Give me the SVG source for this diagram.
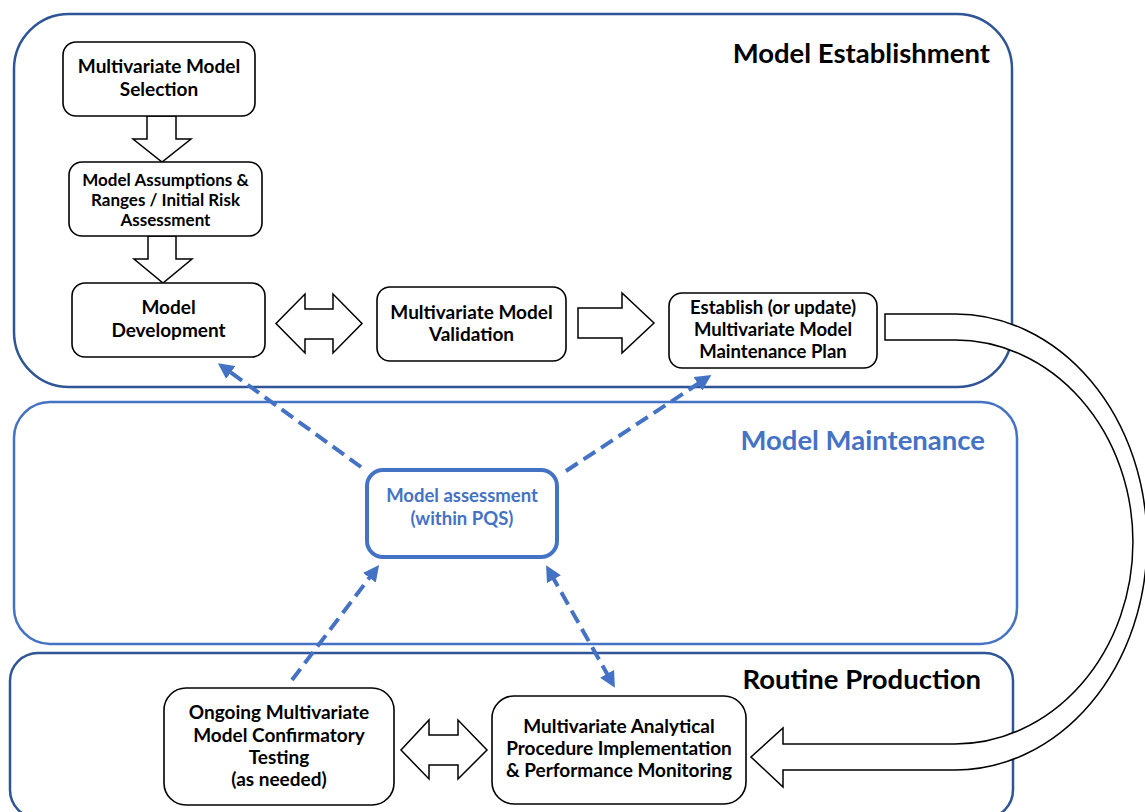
<svg xmlns="http://www.w3.org/2000/svg" width="1145" height="812" viewBox="0 0 1145 812">
<style>
.cont{fill:none;stroke-width:2.5}
.dk{stroke:#2F5597}
.lt{stroke:#4472C4}
.box{fill:#fff;stroke:#000;stroke-width:1.6}
.blk{fill:#fff;stroke:#000;stroke-width:1.5;stroke-linejoin:miter}
.t{font-family:Lato,"Liberation Sans",sans-serif;font-weight:bold;font-size:19px;fill:#000;text-anchor:middle}
.s16{font-size:17px}
.s18{font-size:18.5px}
.h{font-family:Lato,"Liberation Sans",sans-serif;font-weight:bold;font-size:27.5px;fill:#000}
.blue{fill:#4472C4}
.dash{fill:none;stroke:#4472C4;stroke-width:4;stroke-dasharray:14 7}
</style>
<defs>
<marker id="ah" viewBox="0 0 16 16" refX="6" refY="8" markerWidth="16" markerHeight="16" markerUnits="userSpaceOnUse" orient="auto-start-reverse">
<path d="M0,0 L16,8 L0,16 z" fill="#4472C4"/>
</marker>
</defs>

<g id="containers">
<rect id="model-establishment" class="cont dk" x="14" y="14" width="998" height="373" rx="55"/>
<rect id="model-maintenance" class="cont lt" x="14" y="402" width="1003" height="242" rx="36"/>
<rect id="routine-production" class="cont dk" x="10" y="653" width="1003" height="165" rx="28"/>
<text class="h" x="990" y="63" text-anchor="end">Model Establishment</text>
<text class="h blue" x="985" y="450" text-anchor="end">Model Maintenance</text>
<text class="h" x="981" y="689" text-anchor="end">Routine Production</text>
</g>

<g id="connectors">
<path class="blk" d="M147,116 L176,116 L176,139 L191,139 L162,162 L133,139 L147,139 Z"/>
<path class="blk" d="M148,236 L176,236 L176,259 L192,259 L163,283 L134,259 L148,259 Z"/>
<path class="blk" d="M276,323.5 L305,294 L305,309 L333,309 L333,294 L362,323.5 L333,353 L333,339 L305,339 L305,353 Z"/>
<path class="blk" d="M578,308 L622,308 L622,293 L654,323 L622,353 L622,338 L578,338 Z"/>
<path class="blk" d="M401,750 L429,720 L429,735 L458,735 L458,720 L487,750 L458,779 L458,765 L429,765 L429,779 Z"/>
<path class="blk" d="M885,314 L955,314 A192,228 0 0 1 955,770 L783,770 L783,787 L751,757 L783,728 L783,744 L955,744 A178,202 0 0 0 955,340 L885,340 Z"/>
<path class="dash" d="M361,467 L226,369" marker-end="url(#ah)"/>
<path class="dash" d="M566,471 L703,380.5" marker-end="url(#ah)"/>
<path class="dash" d="M292,680 L373,573" marker-end="url(#ah)"/>
<path class="dash" d="M551,574 L610,679" marker-start="url(#ah)" marker-end="url(#ah)"/>
</g>

<g id="n-selection">
<rect class="box" x="63" y="42" width="192" height="74" rx="13"/>
<text class="t" x="159" y="73">Multivariate Model</text>
<text class="t" x="159" y="96">Selection</text>
</g>
<g id="n-assumptions">
<rect class="box" x="69" y="162" width="193" height="74" rx="13"/>
<text class="t s16" x="165.5" y="186">Model Assumptions &amp;</text>
<text class="t s16" x="165.5" y="206">Ranges / Initial Risk</text>
<text class="t s16" x="165.5" y="226">Assessment</text>
</g>
<g id="n-development">
<rect class="box" x="72" y="283" width="193" height="74" rx="13"/>
<text class="t" x="168.5" y="314">Model</text>
<text class="t" x="168.5" y="337">Development</text>
</g>
<g id="n-validation">
<rect class="box" x="377" y="287" width="189" height="74" rx="13"/>
<text class="t" x="471.5" y="319">Multivariate Model</text>
<text class="t" x="471.5" y="341">Validation</text>
</g>
<g id="n-maintenance-plan">
<rect class="box" x="669" y="293" width="208" height="75" rx="13"/>
<text class="t s18" x="773" y="314">Establish (or update)</text>
<text class="t s18" x="773" y="336">Multivariate Model</text>
<text class="t s18" x="773" y="358">Maintenance Plan</text>
</g>
<g id="n-assessment">
<rect x="367" y="470" width="190" height="87" rx="16" fill="#fff" stroke="#4472C4" stroke-width="4"/>
<text class="t s18 blue" x="462" y="502">Model assessment</text>
<text class="t s18 blue" x="462" y="525">(within PQS)</text>
</g>
<g id="n-confirmatory">
<rect class="box" x="164" y="688" width="230" height="117" rx="22"/>
<text class="t" x="279" y="719">Ongoing Multivariate</text>
<text class="t" x="279" y="742">Model Confirmatory</text>
<text class="t" x="279" y="764">Testing</text>
<text class="t" x="279" y="786">(as needed)</text>
</g>
<g id="n-implementation">
<rect class="box" x="492" y="696" width="254" height="108" rx="22"/>
<text class="t" x="619" y="733">Multivariate Analytical</text>
<text class="t" x="619" y="755">Procedure Implementation</text>
<text class="t" x="619" y="777">&amp; Performance Monitoring</text>
</g>
</svg>
